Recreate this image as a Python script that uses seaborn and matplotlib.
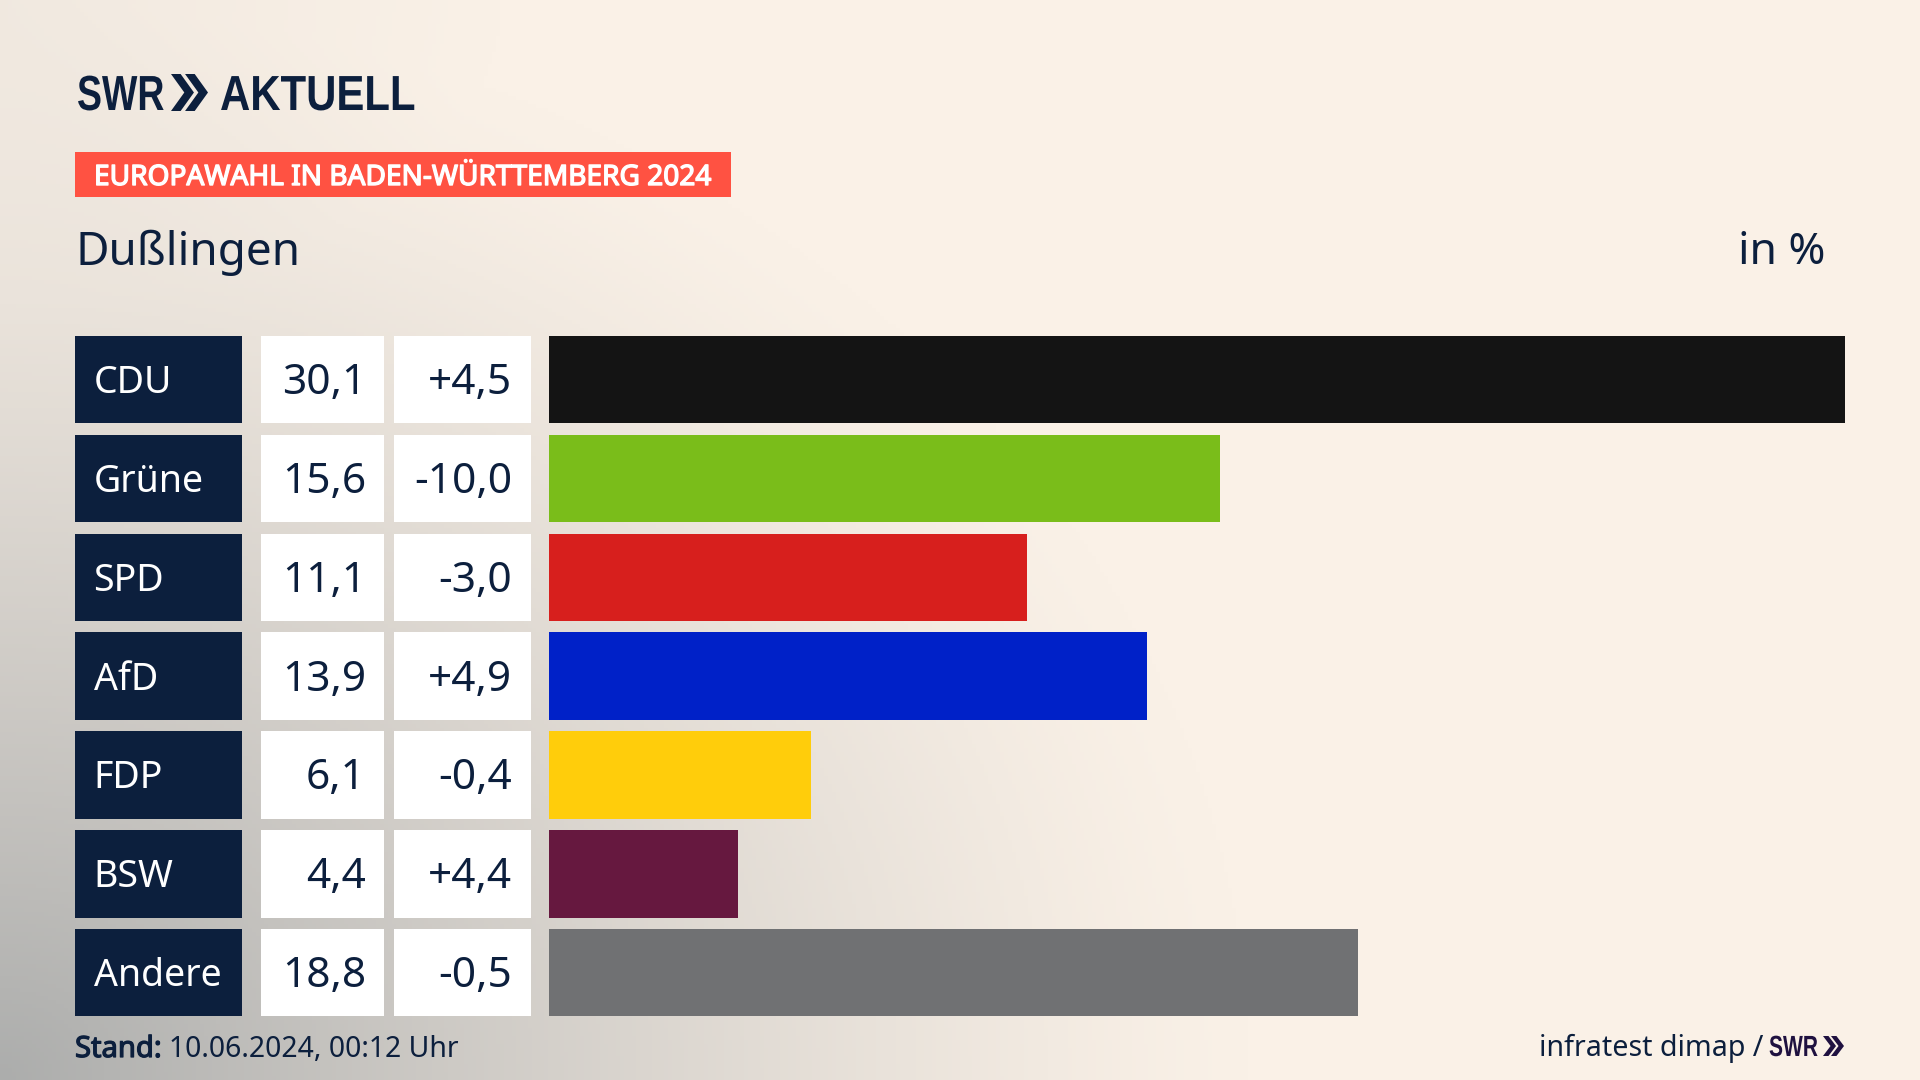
import numpy as np
import pandas as pd
import matplotlib
matplotlib.use("Agg")
import matplotlib.pyplot as plt
from matplotlib.patches import Rectangle, Polygon
from matplotlib.patheffects import AbstractPathEffect, withStroke
from matplotlib.transforms import Affine2D
import seaborn as sns

parties = ["CDU", "Grüne", "SPD", "AfD", "FDP", "BSW", "Andere"]
votes = [30.1, 15.6, 11.1, 13.9, 6.1, 4.4, 18.8]
changes = ["+4,5", "-10,0", "-3,0", "+4,9", "-0,4", "+4,4", "-0,5"]
colors = ["#141414", "#7abd1a", "#d71f1d", "#0021c8", "#ffcd0b", "#66183f", "#707173"]
logo_left = "SWR"
logo_right = "AKTUELL"
banner = "EUROPAWAHL IN BADEN-WÜRTTEMBERG 2024"
place = "Dußlingen"
unit = "in %"
stand_label = "Stand:"
stand_value = "10.06.2024, 00:12 Uhr"
source = "infratest dimap /"

NAVY = "#0c1f3d"
sns.set_theme(style="white")
BODY = ["Noto Sans", "DejaVu Sans"]
LOGO = ["Liberation Sans", "DejaVu Sans"]
plt.rcParams["font.family"] = BODY

fig = plt.figure(figsize=(19.2, 10.8), dpi=100)


class Squeeze(AbstractPathEffect):
    """Narrow a text horizontally about its left edge (pixel x)."""
    def __init__(self, x_px, sx):
        super().__init__()
        self.x_px, self.sx = x_px, sx

    def draw_path(self, renderer, gc, tpath, affine, rgbFace=None):
        a = affine + Affine2D().translate(-self.x_px, 0).scale(self.sx, 1).translate(self.x_px, 0)
        renderer.draw_path(gc, tpath, a, rgbFace)


# page layer in pixel coordinates
bg = fig.add_axes([0, 0, 1, 1])
bg.set_xlim(0, 1920)
bg.set_ylim(1080, 0)
bg.axis("off")

yy, xx = np.mgrid[0:1080:270j, 0:1920:480j]
d = np.sqrt((xx / 1250) ** 2 + ((1080 - yy) / 1080) ** 2)
t = np.clip(1 - d, 0, 1) ** 1.25
d2 = np.sqrt((xx / 500) ** 2 + (yy / 300) ** 2)
t = np.clip(t + 0.12 * np.clip(1 - d2, 0, 1), 0, 1)
cream = np.array([250, 241, 231]) / 255
grey = np.array([172, 173, 172]) / 255
img = cream[None, None, :] * (1 - t[..., None]) + grey[None, None, :] * t[..., None]
bg.imshow(img, extent=(0, 1920, 1080, 0), aspect="auto", zorder=0)

ROW0, PITCH, HEIGHT = 379.6, 98.85, 87.4

# bars
top_px = ROW0 - PITCH / 2
bot_px = ROW0 + 6.5 * PITCH
ax = fig.add_axes([548.5 / 1920, 1 - bot_px / 1080, (1845 - 548.5) / 1920, (bot_px - top_px) / 1080])
ax.patch.set_alpha(0)
df = pd.DataFrame({"party": parties, "votes": votes})
sns.barplot(data=df, y="party", x="votes", hue="party", palette=colors, order=parties,
            hue_order=parties, dodge=False, legend=False, width=HEIGHT / PITCH, saturation=1,
            edgecolor="none", linewidth=0, ax=ax)
ax.set_xlim(0, max(votes))
ax.set_ylim(6.5, -0.5)
ax.axis("off")

# table cells
for i, (p, v, c) in enumerate(zip(parties, votes, changes)):
    yc = ROW0 + PITCH * i
    top = yc - HEIGHT / 2
    bg.add_patch(Rectangle((75, top), 167, HEIGHT, fc=NAVY, ec="none", zorder=2))
    bg.add_patch(Rectangle((261, top), 123, HEIGHT, fc="white", ec="none", zorder=2))
    bg.add_patch(Rectangle((394, top), 137, HEIGHT, fc="white", ec="none", zorder=2))
    base = yc + 13.5
    bg.text(93.5, base, p, color="white", fontsize=27, ha="left", va="baseline", zorder=3)
    bg.text(366, base + 1, f"{v:.1f}".replace(".", ","), color=NAVY, fontsize=30.5, ha="right", va="baseline", zorder=3)
    bg.text(512, base + 1, c, color=NAVY, fontsize=30.5, ha="right", va="baseline", zorder=3)


def chevrons(x0, y0, w, h, color):
    cw = w * 0.62
    notch = cw * 0.42
    for off in (0, w - cw):
        pts = [(x0 + off, y0), (x0 + off + notch, y0), (x0 + off + cw, y0 + h / 2),
               (x0 + off + notch, y0 + h), (x0 + off, y0 + h), (x0 + off + cw - notch, y0 + h / 2)]
        bg.add_patch(Polygon(pts, closed=True, fc=color, ec="none", zorder=3))


# header
bg.text(77, 110, logo_left, family=LOGO, weight="bold", fontsize=35.5, color=NAVY, va="baseline",
        path_effects=[Squeeze(77, 0.76)])
chevrons(171, 74, 37, 37, NAVY)
bg.text(220, 110, logo_right, family=LOGO, weight="bold", fontsize=35.5, color=NAVY, va="baseline",
        path_effects=[Squeeze(220, 0.85)])
bg.add_patch(Rectangle((75, 152), 656, 45, fc="#ff5242", ec="none", zorder=2))
bg.text(94, 185, banner, color="white", fontsize=20.2, va="baseline", zorder=3,
        path_effects=[withStroke(linewidth=1.0, foreground="white")])
bg.text(75, 265, place, color=NAVY, fontsize=33, va="baseline")
bg.text(1825, 264, unit, color=NAVY, fontsize=32, ha="right", va="baseline")

# footer
bg.text(75, 1057, stand_label, color=NAVY, fontsize=21, va="baseline",
        path_effects=[withStroke(linewidth=0.9, foreground=NAVY)])
bg.text(169, 1057, stand_value, color=NAVY, fontsize=20.4, va="baseline")
bg.text(1539, 1056, source, color=NAVY, fontsize=20.6, va="baseline")
bg.text(1769, 1056, logo_left, family=LOGO, weight="bold", fontsize=21, color="#1f1140", va="baseline",
        path_effects=[Squeeze(1769, 0.72)])
chevrons(1823, 1036, 21, 20, "#1f1140")

fig.savefig("out.png", dpi=100)
